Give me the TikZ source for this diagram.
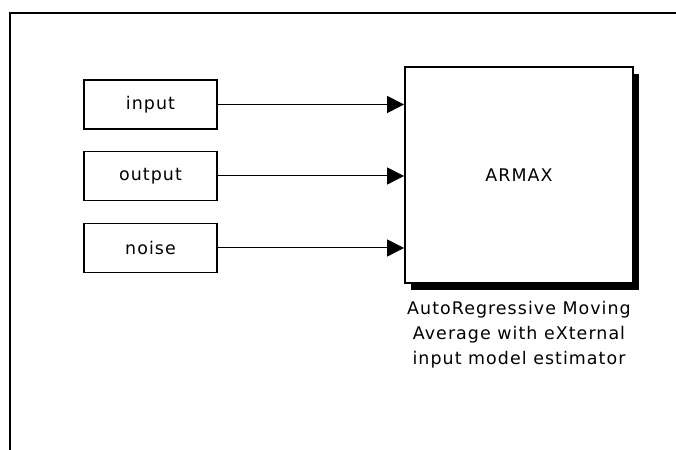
\documentclass[tikz,border=0pt]{standalone}
\usepackage{fontspec}
\setmainfont{DejaVu Sans}[LetterSpace=6]
\usetikzlibrary{arrows.meta, positioning, shadows}

\begin{document}
\begin{tikzpicture}[x=1bp, y=1bp,
    font=\fontsize{17.5}{25}\selectfont,
    srcbox/.style={draw, line width=1.8bp, minimum width=133bp, minimum height=49bp, inner sep=0pt},
    blockbox/.style={draw, line width=1.8bp, fill=white, minimum width=228bp, minimum height=216bp,
        drop shadow={fill=black, opacity=1, shadow xshift=6bp, shadow yshift=-7bp}},
    signal/.style={-{Triangle[length=17bp, width=17bp]}, line width=1bp}]
\useasboundingbox (0,0) rectangle (676,450);
% Frame
\draw[line width=2bp] (10,0) -- (10,437) -- (676,437);
% Estimator block
\node[blockbox] (armax) at (519,275) {ARMAX};
\node[below=17bp of armax, align=center, inner sep=0pt] (caption)
    {AutoRegressive Moving\\Average with eXternal\\input model estimator};
% Sources
\node[srcbox] (input) at (150.5,345.5) {input};
\node[srcbox] (output) at (150.5,274) {output};
\node[srcbox] (noise) at (150.5,202) {noise};
% Signals
\draw[signal] (input.east) -- (input.east -| armax.west);
\draw[signal] (output.east) -- (output.east -| armax.west);
\draw[signal] (noise.east) -- (noise.east -| armax.west);
\end{tikzpicture}
\end{document}
